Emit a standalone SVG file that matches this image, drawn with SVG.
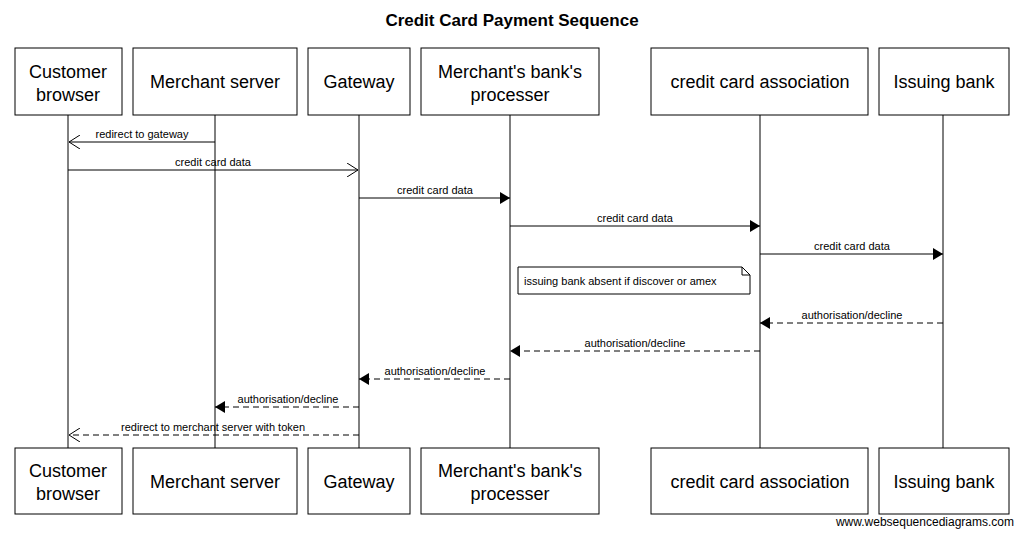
<svg xmlns="http://www.w3.org/2000/svg" width="1024" height="538" viewBox="0 0 1024 538">
<style>
.box{fill:#fff;stroke:#000;stroke-width:1}
.bt{font-family:"Liberation Sans",Arial,sans-serif;font-size:18px;text-anchor:middle}
.ml{font-family:"Liberation Sans",Arial,sans-serif;font-size:11px;text-anchor:middle}
.life{stroke:#000;stroke-width:1}
.m{stroke:#000;stroke-width:1;fill:none}
.d{stroke-dasharray:6,4}
</style>
<defs>
<marker id="f" markerWidth="10" markerHeight="12" refX="10" refY="6" orient="auto" markerUnits="userSpaceOnUse"><path d="M0,0 L10,6 L0,12 z" fill="#000"/></marker>
<marker id="o" markerWidth="12" markerHeight="14" refX="11" refY="7" orient="auto" markerUnits="userSpaceOnUse"><path d="M0,0 L11,7 L0,14" fill="none" stroke="#000"/></marker>
</defs>
<rect width="1024" height="538" fill="#fff"/>
<text x="512" y="26" font-family="Liberation Sans,Arial,sans-serif" font-size="17" font-weight="bold" text-anchor="middle">Credit Card Payment Sequence</text>
<g id="lifelines">
<line class="life" x1="68" y1="115" x2="68" y2="448"/>
<line class="life" x1="215" y1="115" x2="215" y2="448"/>
<line class="life" x1="359" y1="115" x2="359" y2="448"/>
<line class="life" x1="510" y1="115" x2="510" y2="448"/>
<line class="life" x1="760" y1="115" x2="760" y2="448"/>
<line class="life" x1="943" y1="115" x2="943" y2="448"/>
</g>
<g id="customer"><rect class="box" x="15" y="48" width="107" height="67"/><text class="bt" x="68" y="78">Customer</text><text class="bt" x="68" y="101">browser</text>
<rect class="box" x="15" y="448" width="107" height="66"/><text class="bt" x="68" y="477">Customer</text><text class="bt" x="68" y="500">browser</text></g>
<g id="merchant"><rect class="box" x="133" y="48" width="164" height="67"/><text class="bt" x="215" y="88">Merchant server</text>
<rect class="box" x="133" y="448" width="164" height="66"/><text class="bt" x="215" y="488">Merchant server</text></g>
<g id="gateway"><rect class="box" x="308" y="48" width="102" height="67"/><text class="bt" x="359" y="88">Gateway</text>
<rect class="box" x="308" y="448" width="102" height="66"/><text class="bt" x="359" y="488">Gateway</text></g>
<g id="processer"><rect class="box" x="421" y="48" width="178" height="67"/><text class="bt" x="510" y="78">Merchant's bank's</text><text class="bt" x="510" y="101">processer</text>
<rect class="box" x="421" y="448" width="178" height="66"/><text class="bt" x="510" y="477">Merchant's bank's</text><text class="bt" x="510" y="500">processer</text></g>
<g id="association"><rect class="box" x="651" y="48" width="217" height="67"/><text class="bt" x="760" y="88">credit card association</text>
<rect class="box" x="651" y="448" width="217" height="66"/><text class="bt" x="760" y="488">credit card association</text></g>
<g id="issuing"><rect class="box" x="879" y="48" width="130" height="67"/><text class="bt" x="944" y="88">Issuing bank</text>
<rect class="box" x="879" y="448" width="130" height="66"/><text class="bt" x="944" y="488">Issuing bank</text></g>
<g id="note"><path d="M518,267 H742 L750,275 V294 H518 Z M742,267 V275 H750" fill="#fff" stroke="#000"/><text x="524" y="285" font-family="Liberation Sans,Arial,sans-serif" font-size="11">issuing bank absent if discover or amex</text></g>
<g id="connectors">
<line class="m" x1="215" y1="142" x2="69" y2="142" marker-end="url(#o)"/><text class="ml" x="142" y="138">redirect to gateway</text>
<line class="m" x1="68" y1="170" x2="358" y2="170" marker-end="url(#o)"/><text class="ml" x="213" y="166">credit card data</text>
<line class="m" x1="359" y1="198" x2="510" y2="198" marker-end="url(#f)"/><text class="ml" x="435" y="194">credit card data</text>
<line class="m" x1="510" y1="226" x2="760" y2="226" marker-end="url(#f)"/><text class="ml" x="635" y="222">credit card data</text>
<line class="m" x1="760" y1="254" x2="943" y2="254" marker-end="url(#f)"/><text class="ml" x="852" y="250">credit card data</text>
<line class="m d" x1="943" y1="323" x2="760" y2="323" marker-end="url(#f)"/><text class="ml" x="852" y="319">authorisation/decline</text>
<line class="m d" x1="760" y1="351" x2="510" y2="351" marker-end="url(#f)"/><text class="ml" x="635" y="347">authorisation/decline</text>
<line class="m d" x1="510" y1="379" x2="359" y2="379" marker-end="url(#f)"/><text class="ml" x="435" y="375">authorisation/decline</text>
<line class="m d" x1="359" y1="407" x2="215" y2="407" marker-end="url(#f)"/><text class="ml" x="288" y="403">authorisation/decline</text>
<line class="m d" x1="359" y1="435" x2="69" y2="435" marker-end="url(#o)"/><text class="ml" x="213" y="431">redirect to merchant server with token</text>
</g>
<text x="1014" y="526" font-family="Liberation Sans,Arial,sans-serif" font-size="12" text-anchor="end">www.websequencediagrams.com</text>
</svg>
